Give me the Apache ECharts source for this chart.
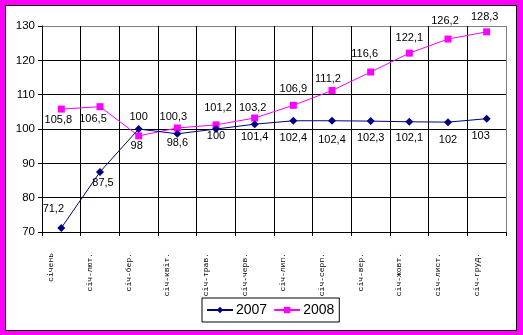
<!DOCTYPE html>
<html><head><meta charset="utf-8">
<script src="https://cdn.jsdelivr.net/npm/echarts@6/dist/echarts.min.js"></script>
<style>html,body{margin:0;padding:0;background:#FF00FF;}#c{width:523px;height:335px;}</style>
</head><body><div id="c"></div>
<script>
const categories = ["січень","січ-лют.","січ-бер.","січ-квіт.","січ-трав.","січ-черв.","січ-лип.","січ-серп.","січ-вер.","січ-жовт.","січ-лист.","січ-груд."];
const values2007 = [71.2, 87.5, 100, 98.6, 100, 101.4, 102.4, 102.4, 102.3, 102.1, 102, 103];
const values2008 = [105.8, 106.5, 98, 100.3, 101.2, 103.2, 106.9, 111.2, 116.6, 122.1, 126.2, 128.3];
const yTicks = [70, 80, 90, 100, 110, 120, 130];

// label offsets (styling only)
const off2007 = [[-8,-19],[3,11],[0,-12],[0,9],[0,7],[0,13],[0,17],[0,19],[0,17],[0,16],[0,18],[-6,17]];
const off2008 = [[-3,11],[-7,12],[-2,10],[-4,-11],[2,-17],[-2,-10],[0,-16],[-4,-12],[-6,-18],[0,-15],[-3,-18],[-2,-15]];

const fmt = v => String(v).replace('.', ',');
function mk(vals, offs){
  return vals.map((v,i)=>({value:v, label:{offset:offs[i]}}));
}
const chart = echarts.init(document.getElementById('c'), null, {renderer:'canvas'});
chart.setOption({
  animation:false,
  backgroundColor:'transparent',
  graphic:[{type:'rect', z:-100, silent:true, shape:{x:5.5,y:5.5,width:511,height:325}, style:{fill:'#fff', stroke:'#000', lineWidth:1}}],
  grid:{left:42, right:17, top:26, bottom:103, show:false},
  legend:{
    bottom:13, left:202, itemWidth:26, itemHeight:8, itemGap:6,
    borderColor:'#000', borderWidth:1, padding:[5,5,5,4],
    textStyle:{fontFamily:'Liberation Sans', fontSize:14, color:'#000', padding:[0,0,0,-2]},
    data:['2007','2008']
  },
  xAxis:{
    type:'category', data:categories, boundaryGap:true,
    axisLine:{lineStyle:{color:'#000', width:1}},
    axisTick:{show:true, length:4, lineStyle:{color:'#000'}},
    axisLabel:{rotate:90, margin:21, fontFamily:'Liberation Mono', fontSize:8, color:'#000', interval:0,
      verticalAlign:'bottom', lineHeight:20},
    splitLine:{show:true, lineStyle:{color:['#000','#000','#000','#000','#000','#000','#000','#000','#000','#000','#000','#000','#808080'], width:1}}
  },
  yAxis:{
    type:'value', min:70, max:130, interval:10,
    axisLine:{show:true, lineStyle:{color:'#000'}},
    axisTick:{show:true, length:4, lineStyle:{color:'#000'}},
    axisLabel:{margin:7, fontFamily:'Liberation Sans', fontSize:11.5, color:'#000',
      formatter: v => yTicks.includes(v) ? String(v) : ''},
    splitLine:{show:true, lineStyle:{color:['#000','#000','#000','#000','#000','#000','#808080'], width:1}}
  },
  series:[
    {name:'2007', type:'line', data:mk(values2007, off2007), color:'#000080',
     symbol:'diamond', symbolSize:8, showAllSymbol:true,
     lineStyle:{width:1, color:'#000080'}, itemStyle:{color:'#000080'},
     label:{show:true, position:'inside', formatter:p=>fmt(p.value), fontFamily:'Liberation Sans', fontSize:11, color:'#000'},
     z:3},
    {name:'2008', type:'line', data:mk(values2008, off2008), color:'#FF00FF',
     symbol:'rect', symbolSize:7, showAllSymbol:true,
     lineStyle:{width:1, color:'#FF00FF'}, itemStyle:{color:'#FF00FF'},
     label:{show:true, position:'inside', formatter:p=>fmt(p.value), fontFamily:'Liberation Sans', fontSize:11, color:'#000'},
     z:2}
  ]
});
</script></body></html>
